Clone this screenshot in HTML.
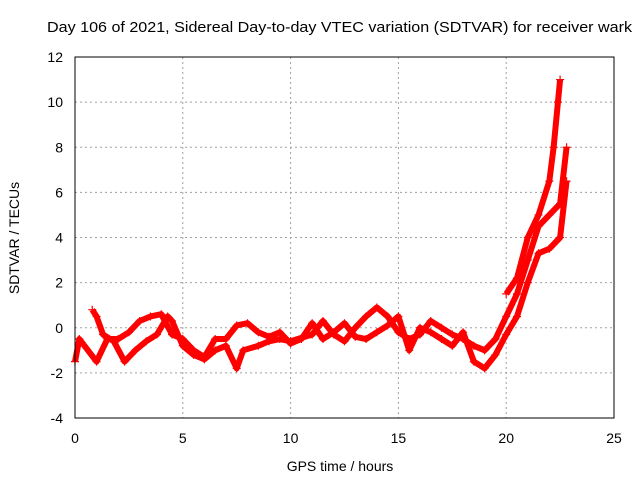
<!DOCTYPE html>
<html><head><meta charset="utf-8"><style>
body{margin:0;background:#fff}
svg{display:block;font-family:"Liberation Sans",sans-serif}
</style></head><body>
<svg id="chart" width="640" height="480">
<text x="47" y="32" font-size="15" textLength="585" lengthAdjust="spacingAndGlyphs">Day 106 of 2021, Sidereal Day-to-day VTEC variation (SDTVAR) for receiver wark</text>
<text x="340" y="471" font-size="14" text-anchor="middle">GPS time / hours</text>
<text transform="translate(19,238) rotate(-90)" font-size="14" text-anchor="middle">SDTVAR / TECUs</text>
<g id="grid"></g><g id="ticks"></g><g id="series"></g>
<rect x="75" y="57" width="539" height="361" fill="none" stroke="#000"/>
</svg>
<script>
const xTicks=[0,5,10,15,20,25];
const yTicks=[-4,-2,0,2,4,6,8,10,12];
const track1X=[0.8,1.0,1.3,1.8,2.3,2.8,3.3,3.8,4.3,4.5,5,5.5,6,6.5,7,7.5,7.8,8.5,9,9.5,10,11,11.5,12,12.5,13,13.5,14,14.5,15,15.5,16,16.5,17,17.5,18,18.5,19,19.5,20,20.5,21,21.5,22,22.5,22.8];
const track1Y=[0.8,0.5,-0.3,-0.6,-1.5,-1.0,-0.6,-0.3,0.5,0.3,-0.8,-1.2,-1.4,-1.0,-0.8,-1.8,-1.0,-0.8,-0.6,-0.5,-0.6,-0.3,0.3,-0.3,-0.6,0.0,0.5,0.9,0.5,-0.2,-0.5,-0.3,0.3,0.0,-0.3,-0.5,-0.8,-1.0,-0.5,0.5,1.5,3.0,4.5,5.0,5.5,8.0];
const track2X=[0,0.2,1,1.5,2,2.5,3,3.5,4,4.5,5,5.5,6,6.5,7,7.5,8,8.5,9,9.5,10,10.5,11,11.5,12,12.5,13,13.5,14,14.5,15,15.5,16,16.5,17,17.5,18,18.5,19,19.5,20,20.5,21,21.5,22,22.5,22.8];
const track2Y=[-1.5,-0.5,-1.5,-0.5,-0.5,-0.2,0.3,0.5,0.6,-0.3,-0.5,-1.0,-1.3,-0.5,-0.5,0.1,0.2,-0.2,-0.4,-0.2,-0.7,-0.5,0.2,-0.5,-0.2,0.2,-0.4,-0.5,-0.2,0.1,0.5,-1.0,0.0,-0.2,-0.5,-0.8,-0.2,-1.5,-1.8,-1.2,-0.3,0.5,2.0,3.3,3.5,4.0,6.5];
const track3X=[20,20.5,21,21.5,22,22.2,22.4,22.5];
const track3Y=[1.5,2.2,4.0,5.0,6.5,8.0,10.0,11.0];
const sx=v=>75+v*(539/25);
const sy=v=>418-(v+4)*(361/16);
const NS="http://www.w3.org/2000/svg";
const mk=(tag,at,parent)=>{const e=document.createElementNS(NS,tag);for(const k in at)e.setAttribute(k,at[k]);parent.appendChild(e);return e;};
const grid=document.getElementById('grid'),ticks=document.getElementById('ticks'),ser=document.getElementById('series');
xTicks.forEach(t=>{
 const x=sx(t);
 if(t>0&&t<25){const g=mk('line',{x1:x,x2:x,y1:57,y2:418,stroke:'#a0a0a0','stroke-dasharray':'2,3'},grid);
 
 }
 const l=mk('text',{x:x,y:443,'font-size':14,'text-anchor':'middle'},ticks);l.textContent=t;
 
 
});
yTicks.forEach(t=>{
 const y=sy(t);
 if(t>-4&&t<12){const g=mk('line',{x1:75,x2:614,y1:y,y2:y,stroke:'#a0a0a0','stroke-dasharray':'2,3'},grid);
 
 }
 const l=mk('text',{x:63,y:y+5,'font-size':14,'text-anchor':'end'},ticks);l.textContent=t;
 
 
});
[[track1X,track1Y],[track2X,track2Y],[track3X,track3Y]].forEach((tr,i)=>{
 const pts=tr[0].map((x,j)=>sx(x)+','+sy(tr[1][j])).join(' ');
 const p=mk('polyline',{points:pts,fill:'none',stroke:'#f00','stroke-width':6,'stroke-linejoin':'round'},ser);
 
 
 tr[0].forEach((x,j)=>{
  const cx=sx(x),cy=sy(tr[1][j]);
  const m=mk('path',{d:`M${cx-4},${cy}h8M${cx},${cy-4}v8`,stroke:'#f00','stroke-width':1.2},ser);
  
  
 });
});
</script>
</body></html>
